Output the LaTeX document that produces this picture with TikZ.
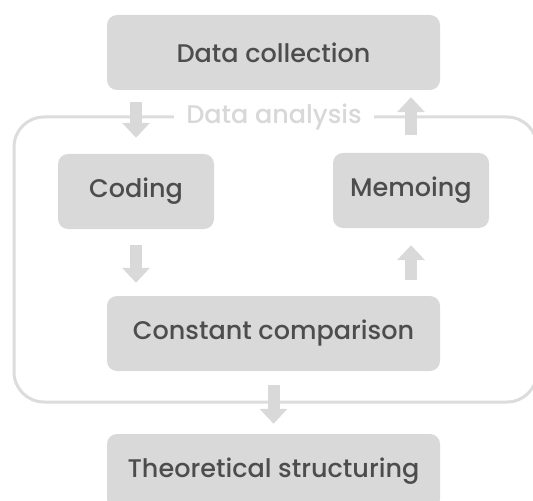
\documentclass[tikz,border=0pt]{standalone}
\usepackage{fontspec}
\setmainfont{Poppins}[UprightFont=* Medium]
\usetikzlibrary{arrows.meta,calc}
\definecolor{boxgray}{HTML}{D9D9D9}
\definecolor{textgray}{HTML}{4D4D4D}
\definecolor{framegray}{HTML}{DCDCDC}
\definecolor{labelgray}{HTML}{D8D8D8}
\begin{document}
\begin{tikzpicture}[x=1bp,y=-1bp,
  stagebox/.style={fill=boxgray, rounded corners=10bp, inner sep=0pt,
    text=textgray, font=\fontsize{25.5bp}{30bp}\selectfont},
  blockarrow/.style={draw=boxgray, line width=12bp,
    -{Triangle[width=27bp,length=15bp]}}]
\useasboundingbox (0,0) rectangle (533,501);
% process stages
\node[stagebox, minimum width=333bp, minimum height=75bp] (dc) at (273.5,52.5) {Data collection};
\node[stagebox, minimum width=156bp, minimum height=75bp] (cod) at (136,191.5) {Coding};
\node[stagebox, minimum width=156bp, minimum height=75bp] (mem) at (411,190.5) {Memoing};
\node[stagebox, minimum width=333bp, minimum height=75bp] (cc) at (273.5,333.5) {Constant comparison};
\node[stagebox, minimum width=333bp, minimum height=75bp] (ts) at (273.5,471.5) {Theoretical structuring};
% analysis loop frame with its label
\draw[framegray, line width=3bp, rounded corners=30bp] (14,117) rectangle (537,402);
\node[fill=white, inner xsep=12bp, inner ysep=2bp, text=labelgray,
  font=\fontsize{25.5bp}{30bp}\selectfont] (da) at (274,117) {Data analysis};
% flow arrows
\draw[blockarrow, shorten <=12bp, shorten >=16bp] (cod.north |- dc.south) -- (cod.north);
\draw[blockarrow, shorten <=18bp, shorten >=7bp] (mem.north) -- (mem.north |- dc.south);
\draw[blockarrow, shorten <=16bp, shorten >=13bp] (cod.south) -- (cod.south |- cc.north);
\draw[blockarrow, shorten <=16bp, shorten >=17bp] (mem.south |- cc.north) -- (mem.south);
\draw[blockarrow, shorten <=14bp, shorten >=10bp] (cc.south) -- (ts.north);
\end{tikzpicture}
\end{document}
